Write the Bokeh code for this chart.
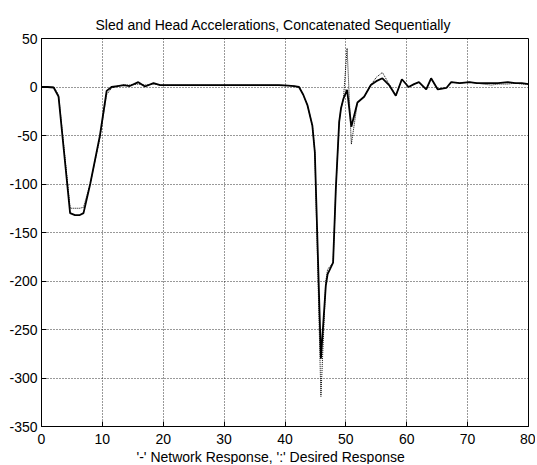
from bokeh.plotting import figure
from bokeh.models import Range1d, Title, FixedTicker
from bokeh.embed import file_html
from bokeh.resources import INLINE

# ---- data ----
x_vals = [0, 1, 2, 2.8, 3.7, 4.7, 5.5, 6.3, 6.9, 8.0, 9.6, 10.7, 11.5, 12.5, 13.5,
          14.5, 15.9, 17.0, 18.4, 19.5, 21, 23, 25, 27, 29, 31, 33, 35, 37, 39,
          40.5, 41.5, 42.3, 43.0, 43.7, 44.5, 44.9, 45.9, 46.7, 47.0, 47.9, 48.35,
          48.9, 49.2, 49.6, 50.2, 50.9, 51.9, 53.0, 54.1, 55.0, 56.0, 57.1, 58.2,
          59.2, 60.3, 61.2, 62.0, 63.2, 64.0, 65.1, 66.5, 67.3, 68.7, 70.3, 71.5,
          72.5, 73.9, 75.0, 76.6, 77.8, 78.9, 80]

network = [0, 0, -0.5, -10, -67, -130, -132, -132, -130, -100, -50, -4, 0, 1, 2,
           1, 5, 0.5, 4, 2, 2, 2, 2, 2, 2, 2, 2, 2, 2, 2,
           1.5, 1, 0, -8, -19, -40, -67, -280, -205, -193, -181, -105,
           -36, -22, -12, -3, -41, -16, -10, 2, 6, 9, 2, -9,
           8, 0, 3, 5, -2.5, 9, -2.5, -1, 5, 4, 5, 4,
           4, 4, 4, 5, 4, 4, 3]

desired = [0, 0, 0, -8, -63, -125, -125, -125, -124, -100, -52, -8, -1, 1, 2,
           2, 3, 2, 3, 2, 2, 2, 2, 2, 2, 2, 2, 2, 2, 2,
           1.5, 1, 0, -8, -19, -40, -67, -319, -200, -188, -181, -105,
           -36, -22, -12, 40, -59, -16, -10, 2, 10, 15, 3, -9,
           8, 0, 3, 5, -2.5, 9, -2.5, -1, 5, 4, 5, 4,
           3, 2, 3, 3, 4, 3, 3]

x_ticks = [0, 10, 20, 30, 40, 50, 60, 70, 80]
y_ticks = [-350, -300, -250, -200, -150, -100, -50, 0, 50]
y_tick_labels = ["-350", "-300", "-250", "-200", "-150", "-100", "-50", "0", "50"]

FONT = "Liberation Sans"

p = figure(frame_width=487, frame_height=388,
           x_range=Range1d(0, 80), y_range=Range1d(-350, 50),
           output_backend="svg", toolbar_location=None,
           min_border_left=41, min_border_right=7,
           min_border_top=38, min_border_bottom=35,
           background_fill_color="white", border_fill_color="white")

p.title.text = "Sled and Head Accelerations, Concatenated Sequentially"
p.title.align = "left"
p.title.offset = 54
p.title.text_font = FONT
p.title.text_font_size = "14px"
p.title.text_font_style = "normal"
p.title.text_color = "black"
p.title.standoff = 12

xl = Title(text="'-' Network Response, ':' Desired Response", align="left",
           offset=95, text_font=FONT, text_font_size="14px",
           text_font_style="normal", text_color="black", standoff=0)
p.add_layout(xl, "below")

p.line(x_vals, desired, line_color="black", line_width=1, line_dash="1 1")
p.line(x_vals, network, line_color="black", line_width=1.8)

for ax in (p.xaxis, p.yaxis):
    ax.major_tick_in = 5
    ax.major_tick_out = 0
    ax.minor_tick_line_color = None
    ax.axis_line_color = "black"
    ax.major_tick_line_color = "black"
    ax.major_label_text_font = FONT
    ax.major_label_text_font_size = "14px"
    ax.major_label_text_color = "black"
p.xaxis.major_label_standoff = 7
p.yaxis.major_label_standoff = 4

p.xaxis.ticker = FixedTicker(ticks=x_ticks)
p.yaxis.ticker = FixedTicker(ticks=y_ticks)
p.yaxis.major_label_overrides = dict(zip(y_ticks, y_tick_labels))
p.xgrid.ticker = FixedTicker(ticks=x_ticks)
p.ygrid.ticker = FixedTicker(ticks=y_ticks)
p.grid.grid_line_color = "black"
p.grid.grid_line_dash = "1 2"
p.grid.grid_line_alpha = 0.8
p.outline_line_color = "black"
p.outline_line_alpha = 1.0

open("out.html", "w").write(file_html(p, INLINE))
